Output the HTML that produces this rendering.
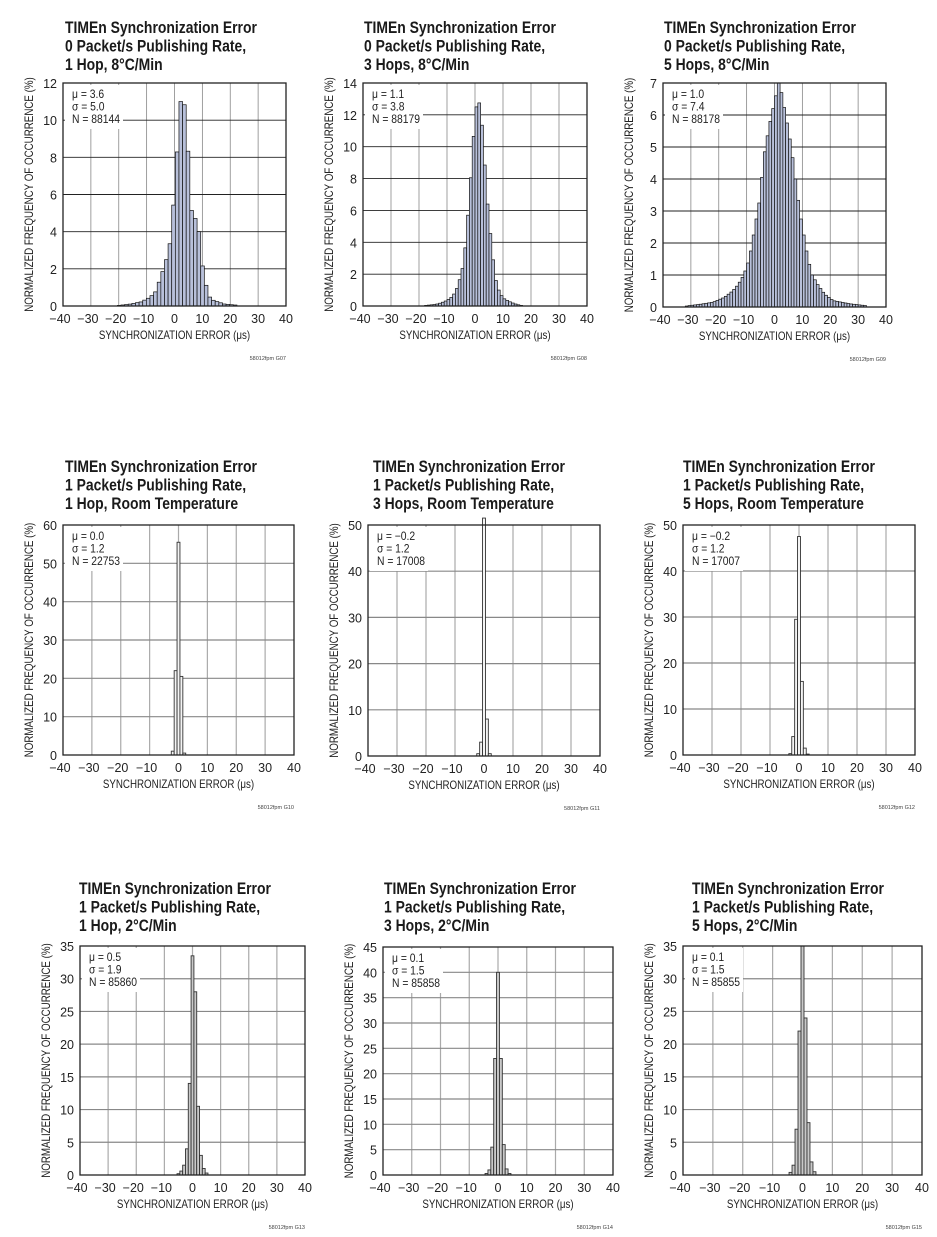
<!DOCTYPE html>
<html><head><meta charset="utf-8"><style>
html,body{margin:0;padding:0;background:#fff;}
svg{display:block;font-family:"Liberation Sans",sans-serif;}
</style></head><body>
<svg id="s" width="937" height="1237" xmlns="http://www.w3.org/2000/svg"></svg>
<script>
const S=document.getElementById('s');
let out='';
function interp(pts){return x=>{if(x<=pts[0][0]||x>=pts[pts.length-1][0])return 0;for(let i=1;i<pts.length;i++){if(x<=pts[i][0]){const [a,ya]=pts[i-1],[b,yb]=pts[i];return ya+(yb-ya)*(x-a)/(b-a);}}return 0;};}
const charts=[
 {L:63,R:286,T:83,B:306,ymax:12,ystep:2,title:["TIMEn Synchronization Error","0 Packet/s Publishing Rate,","1 Hop, 8°C/Min"],tx:65,ty:33,stats:["μ = 3.6","σ = 5.0","N = 88144"],code:"58012fpm G07",row:1,bw:1.3,
  f:interp([[-22,0],[-20,0.03],[-16,0.1],[-12,0.22],[-9,0.45],[-7,0.7],[-5,1.5],[-3.5,2.2],[-2,3],[-1,4],[0,6.2],[1,8.4],[2,10.8],[3,11.6],[4,10.2],[5,8],[6,5.2],[7,4.8],[8,4.6],[9,3.8],[10,2.2],[11,1.3],[12.5,0.5],[14,0.3],[16,0.2],[18,0.1],[22,0.05],[24,0]])},
 {L:363,R:587,T:83,B:306,ymax:14,ystep:2,title:["TIMEn Synchronization Error","0 Packet/s Publishing Rate,","3 Hops, 8°C/Min"],tx:364,ty:33,stats:["μ = 1.1","σ = 3.8","N = 88179"],code:"58012fpm G08",row:1,bw:1,
  f:interp([[-20,0],[-18,0.03],[-14,0.1],[-12,0.2],[-10,0.35],[-8,0.6],[-7,0.9],[-6,1.3],[-5,2],[-4,2.7],[-3,4.6],[-2,6.8],[-1,9.3],[0,12],[1,13],[2,12.5],[3,10.2],[4,7.5],[5,5.3],[6,3.8],[7,2],[8,1.2],[9,0.8],[10,0.5],[12,0.3],[14,0.15],[16,0.05],[18,0]])},
 {L:663,R:886,T:83,B:307,ymax:7,ystep:1,title:["TIMEn Synchronization Error","0 Packet/s Publishing Rate,","5 Hops, 8°C/Min"],tx:664,ty:33,stats:["μ = 1.0","σ = 7.4","N = 88178"],code:"58012fpm G09",row:1,bw:1,
  f:interp([[-33,0],[-31,0.04],[-27,0.08],[-22,0.15],[-18,0.3],[-15,0.5],[-13,0.7],[-11,1.0],[-9,1.5],[-8,2],[-7,2.5],[-5,3.5],[-4,4.6],[-2,5.6],[-0.5,6.2],[1,6.8],[1.5,7],[2.5,6.7],[4,6],[6,5],[7.5,4],[9,3],[10,2.5],[11,2],[12,1.5],[13.5,1],[15.5,0.7],[18,0.4],[21,0.2],[27,0.1],[33,0.04],[34,0]])},
 {L:63,R:294,T:525,B:755,ymax:60,ystep:10,title:["TIMEn Synchronization Error","1 Packet/s Publishing Rate,","1 Hop, Room Temperature"],tx:65,ty:472,stats:["μ = 0.0","σ = 1.2","N = 22753"],code:"58012fpm G10",row:2,
  bars:[[-2,1],[-1,22],[0,55.5],[1,20.5],[2,0.5]]},
 {L:368,R:600,T:525,B:756,ymax:50,ystep:10,title:["TIMEn Synchronization Error","1 Packet/s Publishing Rate,","3 Hops, Room Temperature"],tx:373,ty:472,stats:["μ = −0.2","σ = 1.2","N = 17008"],code:"58012fpm G11",row:2,
  bars:[[-2,0.5],[-1,3],[0,51.5],[1,8],[2,0.5]]},
 {L:683,R:915,T:525,B:755,ymax:50,ystep:10,title:["TIMEn Synchronization Error","1 Packet/s Publishing Rate,","5 Hops, Room Temperature"],tx:683,ty:472,stats:["μ = −0.2","σ = 1.2","N = 17007"],code:"58012fpm G12",row:2,
  bars:[[-3,0.3],[-2,4],[-1,29.5],[0,47.5],[1,16],[2,1.5],[3,0.2]]},
 {L:80,R:305,T:946,B:1175,ymax:35,ystep:5,title:["TIMEn Synchronization Error","1 Packet/s Publishing Rate,","1 Hop, 2°C/Min"],tx:79,ty:894,stats:["μ = 0.5","σ = 1.9","N = 85860"],code:"58012fpm G13",row:3,
  bars:[[-5,0.2],[-4,0.6],[-3,1.5],[-2,4],[-1,14],[0,33.5],[1,28],[2,10.5],[3,3],[4,1],[5,0.3]]},
 {L:383,R:613,T:947,B:1175,ymax:45,ystep:5,title:["TIMEn Synchronization Error","1 Packet/s Publishing Rate,","3 Hops, 2°C/Min"],tx:384,ty:894,stats:["μ = 0.1","σ = 1.5","N = 85858"],code:"58012fpm G14",row:3,
  bars:[[-4,0.3],[-3,1],[-2,5.5],[-1,23],[0,40],[1,23],[2,6],[3,1.2],[4,0.3]]},
 {L:683,R:922,T:946,B:1175,ymax:35,ystep:5,title:["TIMEn Synchronization Error","1 Packet/s Publishing Rate,","5 Hops, 2°C/Min"],tx:692,ty:894,stats:["μ = 0.1","σ = 1.5","N = 85855"],code:"58012fpm G15",row:3,
  bars:[[-4,0.4],[-3,1.5],[-2,7],[-1,22],[0,35],[1,24],[2,8],[3,2],[4,0.5]]}
];
for(const c of charts){
 const W=c.R-c.L,H=c.B-c.T;
 const X=v=>c.L+(v+40)/80*W, Y=v=>c.B-v/c.ymax*H;
 c.title.forEach((t,i)=>{out+=`<text x="${c.tx}" y="${c.ty+i*18.5}" font-size="17" font-weight="bold" fill="#1a1a1a" transform="translate(${c.tx},0) scale(0.82,1) translate(${-c.tx},0)">${t}</text>`;});
 for(let v=-30;v<40;v+=10){out+=`<line x1="${X(v)}" y1="${c.T}" x2="${X(v)}" y2="${c.B}" stroke="${c.row==1?'#888':'#aaa'}" stroke-width="${c.row==1?0.8:1.2}"/>`;}
 for(let v=c.ystep;v<c.ymax;v+=c.ystep){out+=`<line x1="${c.L}" y1="${Y(v)}" x2="${c.R}" y2="${Y(v)}" stroke="${c.row==1?'#222':'#888'}" stroke-width="${c.row==1?0.9:1.2}"/>`;}
 const fill=c.row==1?'#b8c0da':(c.row==2?'#f4f4f4':'#c9c9c9');
 const sc=c.row==1?'#111':'#333';
 if(c.f){
  for(let x=-40;x<40;x+=c.bw){const h=c.f(x+c.bw/2);if(h<0.03)continue;
   out+=`<rect x="${X(x)}" y="${Y(h)}" width="${X(x+c.bw)-X(x)}" height="${c.B-Y(h)}" fill="${fill}" stroke="${sc}" stroke-width="0.7"/>`;}
 } else {
  for(const [x,h] of c.bars){out+=`<rect x="${X(x-0.5)}" y="${Y(h)}" width="${X(x+0.5)-X(x-0.5)}" height="${c.B-Y(h)}" fill="${fill}" stroke="${sc}" stroke-width="0.9"/>`;}
 }
 out+=`<rect x="${c.L+2}" y="${c.T+2}" width="58" height="44" fill="#fff"/>`;
 c.stats.forEach((t,i)=>{out+=`<text x="${c.L+9}" y="${c.T+15+i*12.5}" font-size="11.5" fill="#222" transform="translate(${c.L+9},0) scale(0.9,1) translate(${-c.L-9},0)">${t}</text>`;});
 out+=`<rect x="${c.L}" y="${c.T}" width="${W}" height="${H}" fill="none" stroke="#222" stroke-width="1.3"/>`;
 for(let v=-40;v<=40;v+=10){const lab=v<0?'−'+(-v):v;out+=`<text x="${X(v)-(v<0?3:0)}" y="${c.B+17}" font-size="12.5" text-anchor="middle" fill="#222">${lab}</text>`;}
 for(let v=0;v<=c.ymax;v+=c.ystep){out+=`<text x="${c.L-6}" y="${Y(v)+5}" font-size="12.5" text-anchor="end" fill="#222">${v}</text>`;}
 const cx=(c.L+c.R)/2;
 out+=`<text x="${cx}" y="${c.B+33}" font-size="11.5" text-anchor="middle" fill="#222" transform="translate(${cx},0) scale(0.85,1) translate(${-cx},0)">SYNCHRONIZATION ERROR (μs)</text>`;
 const ly=(c.T+c.B)/2, lx=c.L-30;
 out+=`<text x="0" y="0" font-size="11.5" text-anchor="middle" fill="#222" transform="translate(${lx},${ly}) rotate(-90) scale(0.85,1)">NORMALIZED FREQUENCY OF OCCURRENCE (%)</text>`;
 out+=`<text x="${c.R}" y="${c.B+54}" font-size="5.5" text-anchor="end" fill="#444">${c.code}</text>`;
}
S.innerHTML=out;
</script>
</body></html>
